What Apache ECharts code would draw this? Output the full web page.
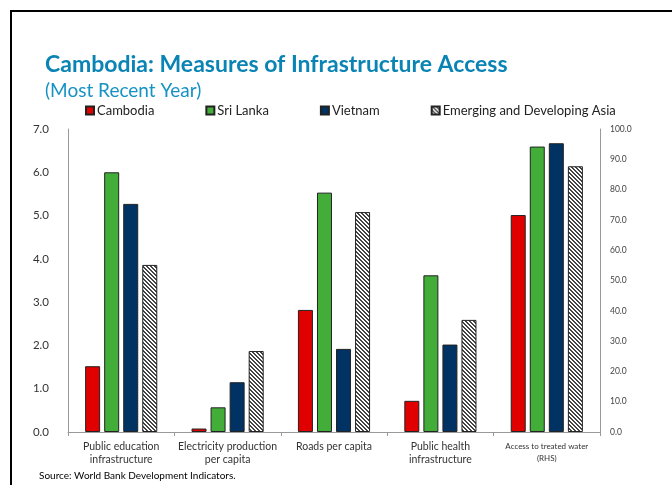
<!DOCTYPE html>
<html>
<head>
<meta charset="utf-8">
<script src="https://cdn.jsdelivr.net/npm/echarts@6/dist/echarts.min.js"></script>
<style>
  html, body { margin: 0; padding: 0; background: #fff; }
  #chart { width: 672px; height: 485px; }
</style>
</head>
<body>
<div id="chart"></div>
<script>
// Infrastructure indicators; the last category is read against the right-hand axis
const categories = [
  'Public education\ninfrastructure',
  'Electricity production\nper capita',
  'Roads per capita',
  'Public health\ninfrastructure',
  'Access to treated water\n(RHS)'
];
const seriesNames = ['Cambodia', 'Sri Lanka', 'Vietnam', 'Emerging and Developing Asia'];
const cambodia = [1.52, 0.08, 2.82, 0.72, 71.6];
const sriLanka = [6.0, 0.57, 5.53, 3.62, 94.2];
const vietnam  = [5.27, 1.15, 1.92, 2.02, 95.3];
const eda      = [3.86, 1.87, 5.08, 2.59, 87.7];
const leftTicks  = ['0.0', '1.0', '2.0', '3.0', '4.0', '5.0', '6.0', '7.0'];
const rightTicks = ['0.0', '10.0', '20.0', '30.0', '40.0', '50.0', '60.0', '70.0', '80.0', '90.0', '100.0'];

// Diagonal hatch tile for the regional aggregate
function hatchTile() {
  const c = document.createElement('canvas');
  c.width = 4; c.height = 4;
  const ctx = c.getContext('2d');
  ctx.fillStyle = '#ffffff';
  ctx.fillRect(0, 0, 4, 4);
  ctx.fillStyle = '#444444';
  for (let y = 0; y < 4; y++) {
    for (let x = 0; x < 4; x++) {
      const d = ((x - y) % 4 + 4) % 4;
      if (d === 0 || d === 1) ctx.fillRect(x, y, 1, 1);
    }
  }
  return c;
}

const fills = ['#e00000', '#43ad3a', '#003264', { image: hatchTile(), repeat: 'repeat' }];
const values = [cambodia, sriLanka, vietnam, eda];
const lastIdx = categories.length - 1;

const series = [];
values.forEach((vals, i) => {
  const style = { color: fills[i], borderColor: '#222', borderWidth: 1 };
  // left-axis part
  series.push({
    name: seriesNames[i], type: 'bar', xAxisIndex: 0, yAxisIndex: 0,
    barWidth: 15, barGap: '27%',
    itemStyle: style,
    data: vals.map((v, k) => (k === lastIdx ? '-' : v))
  });
  // right-axis part
  series.push({
    name: seriesNames[i], type: 'bar', xAxisIndex: 1, yAxisIndex: 1,
    barWidth: 15, barGap: '27%',
    itemStyle: style,
    data: vals.map((v, k) => (k === lastIdx ? v : '-'))
  });
});

const FONT = 'Lato';
const chart = echarts.init(document.getElementById('chart'), null, { renderer: 'canvas' });
chart.setOption({
  animation: false,
  backgroundColor: '#ffffff',
  textStyle: { fontFamily: FONT },
  title: [
    {
      text: 'Cambodia: Measures of Infrastructure Access',
      left: 45, top: 53, padding: 0,
      textStyle: { fontFamily: FONT, fontWeight: 'bold', fontSize: 23, color: '#0a84b4' }
    },
    {
      text: '(Most Recent Year)',
      left: 45, top: 81, padding: 0,
      textStyle: { fontFamily: FONT, fontWeight: 'normal', fontSize: 19, color: '#1692c4' }
    },
    {
      text: 'Source: World Bank Development Indicators.',
      left: 39, top: 471, padding: 0,
      textStyle: { fontFamily: FONT, fontWeight: 'normal', fontSize: 10, color: '#000' }
    }
  ],
  legend: {
    data: seriesNames,
    left: 85, top: 104, padding: 0,
    itemWidth: 8, itemHeight: 8, itemGap: 51,
    icon: 'rect',
    textStyle: { fontFamily: FONT, fontSize: 13, color: '#222', padding: [0, 0, 0, -2] }
  },
  grid: { left: 68, right: 72, top: 129, bottom: 53, containLabel: false },
  xAxis: [
    {
      type: 'category', data: categories, position: 'bottom',
      axisLine: { lineStyle: { color: '#999', width: 1 } },
      axisTick: { show: true, length: 4, lineStyle: { color: '#999' } },
      axisLabel: {
        interval: 0, margin: 8, color: '#333', fontFamily: FONT, fontSize: 10.5, lineHeight: 13,
        formatter: (v, idx) => idx === lastIdx
          ? v.split('\n').map(s => '{s|' + s + '}').join('\n')
          : v,
        rich: { s: { fontSize: 8, lineHeight: 12, color: '#333', fontFamily: FONT } }
      }
    },
    {
      type: 'category', data: categories, position: 'bottom', show: false
    }
  ],
  yAxis: [
    {
      type: 'value', min: 0, max: 7, interval: 1, position: 'left',
      axisLine: { show: true, lineStyle: { color: '#999', width: 1 } },
      axisTick: { show: false },
      splitLine: { show: false },
      axisLabel: {
        margin: 19, color: '#333', fontFamily: FONT, fontSize: 11.5,
        formatter: v => leftTicks[Math.round(v)]
      }
    },
    {
      type: 'value', min: 0, max: 100, interval: 10, position: 'right',
      axisLine: { show: true, lineStyle: { color: '#999', width: 1 } },
      axisTick: { show: false },
      splitLine: { show: false },
      axisLabel: {
        margin: 10, color: '#444', fontFamily: FONT, fontSize: 8.5,
        formatter: v => rightTicks[Math.round(v / 10)]
      }
    }
  ],
  graphic: [
    {
      type: 'polyline', silent: true,
      shape: { points: [[11, 490], [11, 11], [680, 11]] },
      style: { stroke: '#000', lineWidth: 2, fill: null }
    }
  ],
  series: series
});
</script>
</body>
</html>
